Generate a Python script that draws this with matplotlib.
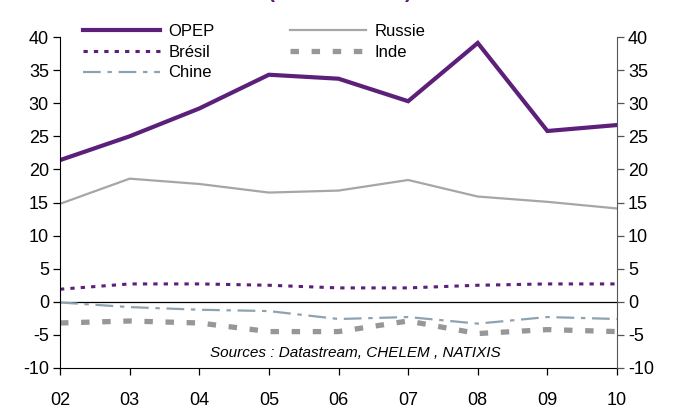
import matplotlib
matplotlib.use("Agg")
import matplotlib.pyplot as plt

plt.rcParams['font.family'] = ['Liberation Sans', 'DejaVu Sans']

years = ["02", "03", "04", "05", "06", "07", "08", "09", "10"]
opep = [21.4, 25.0, 29.2, 34.3, 33.7, 30.3, 39.1, 25.8, 26.7]
russie = [14.8, 18.6, 17.8, 16.5, 16.8, 18.4, 15.9, 15.1, 14.1]
bresil = [1.9, 2.7, 2.7, 2.5, 2.1, 2.1, 2.5, 2.7, 2.7]
inde = [-3.2, -2.9, -3.2, -4.5, -4.5, -2.9, -4.8, -4.2, -4.5]
chine = [-0.1, -0.8, -1.2, -1.4, -2.6, -2.3, -3.3, -2.3, -2.6]
yticks = [-10, -5, 0, 5, 10, 15, 20, 25, 30, 35, 40]

purple = '#5C1F7A'
fig = plt.figure(figsize=(6.82, 4.12), dpi=100)
ax = fig.add_axes([60/682, 44/412, 557/682, 331/412])
x = list(range(len(years)))

ax.axhline(0, color='black', lw=0.9, zorder=1)
l_opep, = ax.plot(x, opep, color=purple, lw=3.0, solid_joinstyle='miter', label='OPEP')
l_rus, = ax.plot(x, russie, color='#A6A6A6', lw=1.6, label='Russie')
l_bre, = ax.plot(x, bresil, color=purple, lw=2.2, dashes=(1.4, 2.0), label='Brésil')
l_ind, = ax.plot(x, inde, color='#979797', lw=3.8, dashes=(1.6, 2.4), label='Inde')
l_chi, = ax.plot(x, chine, color='#8EA3B1', lw=1.6, dashes=(8, 3, 2, 3), label='Chine')

ax.set_xlim(0, len(years) - 1)
ax.set_ylim(-10, 40)
ax.set_yticks(yticks)
ax.set_yticklabels([str(v) for v in yticks], fontsize=13)
ax.set_xticks(x)
ax.set_xticklabels(years, fontsize=13)
ax.tick_params(axis='y', direction='out', length=5, width=0.9, pad=3)
ax.tick_params(axis='x', direction='out', length=5, width=0.9, pad=12)
ax.spines['top'].set_visible(False)
ax.spines['right'].set_visible(False)

ax2 = ax.twinx()
ax2.set_ylim(-10, 40)
ax2.set_yticks(yticks)
ax2.set_yticklabels([str(v) for v in yticks], fontsize=13)
ax2.tick_params(axis='y', direction='out', length=5, width=0.9, pad=3, color='#555555')
ax2.spines['right'].set_color('#555555')
for s in ['top', 'left', 'bottom']:
    ax2.spines[s].set_visible(False)

order_h = [l_opep, l_bre, l_chi, l_rus, l_ind]
order_l = ['OPEP', 'Brésil', 'Chine', 'Russie', 'Inde']
leg = ax.legend(order_h, order_l, ncol=2, loc='upper left', bbox_to_anchor=(0.03, 1.06),
                frameon=False, fontsize=12, handlelength=4.6, handletextpad=0.5,
                columnspacing=4.5, labelspacing=0.35, borderaxespad=0)

ax.text(0.53, 0.045, 'Sources : Datastream, CHELEM , NATIXIS', transform=ax.transAxes,
        ha='center', va='center', fontsize=11, style='italic')

fig.text(340/682, 1 + 2/412, '(en % du total)', color=purple, fontsize=15, fontweight='bold',
         ha='center', va='baseline')

fig.savefig('out.png', dpi=100)
